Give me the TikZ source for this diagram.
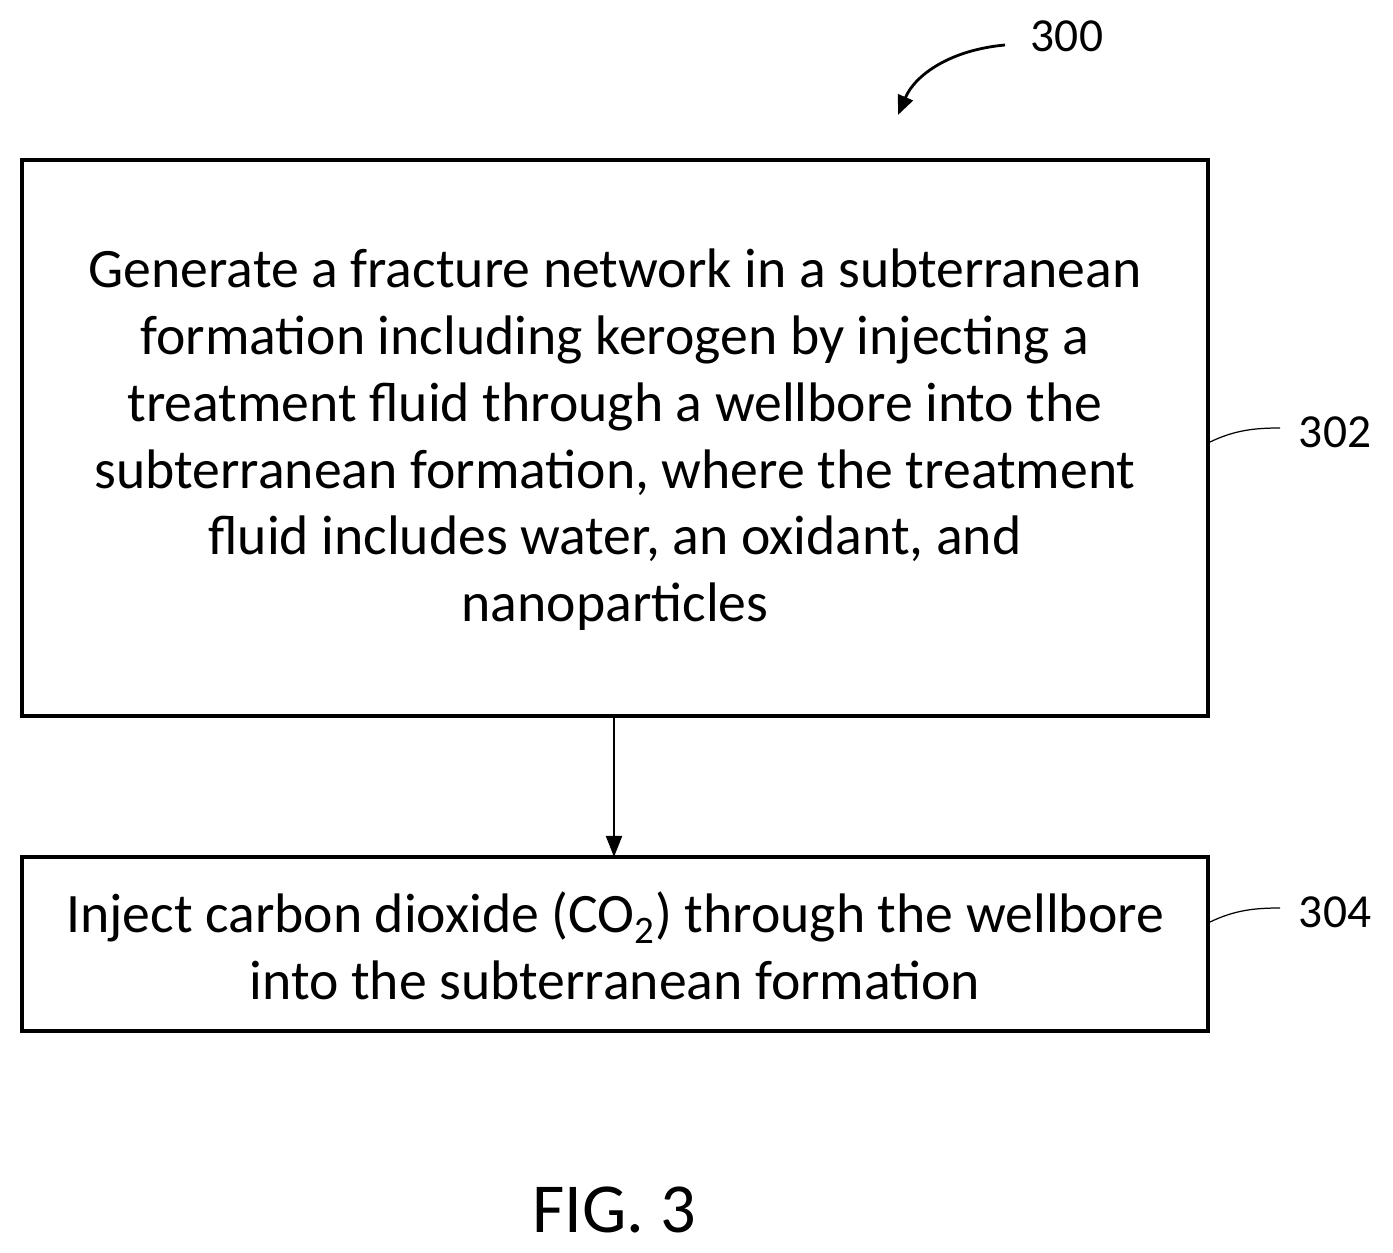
\documentclass[tikz,border=0pt]{standalone}
\usepackage{fontspec}
\setmainfont{Carlito}
\usetikzlibrary{arrows.meta}
\begin{document}
\begin{tikzpicture}[x=0.02cm,y=-0.02cm,
  box/.style={draw,line width=1.8pt,inner sep=0pt},
  txt/.style={align=center,font=\fontsize{31.7}{38}\selectfont},
  lbl/.style={font=\fontsize{27}{30}\selectfont},
  lead/.style={line width=0.7pt}]
\useasboundingbox (0,0) rectangle (1393,1253);
\draw[box] (22,160) rectangle (1208,716);
\draw[box] (22,857) rectangle (1208,1031);
\coordinate (b1) at (614,716);
\coordinate (b2) at (614,857);
\node[txt] (t1) at (615,440) {Generate a fracture network in a subterranean\\formation including kerogen by injecting a\\treatment fluid through a wellbore into the\\subterranean formation, where the treatment\\fluid includes water, an oxidant, and\\nanoparticles};
\node[txt] (t2) at (615,946) {Inject carbon dioxide (CO\textsubscript{2}) through the wellbore\\into the subterranean formation};
\draw[line width=1.6pt,-{Triangle[length=12pt,width=9pt]}] (b1) -- (b2);
\node[lbl] (l300) at (1067,36) {300};
\node[lbl] (l302) at (1335,432) {302};
\node[lbl] (l304) at (1335,912) {304};
\coordinate (c300) at (1005,45);
\coordinate (a300) at (898,115);
\draw[line width=1.6pt,-{Triangle[length=11pt,width=9pt]}] (c300) .. controls (950,50) and (915,75) .. (a300);
\coordinate (s302) at (1210,442);
\coordinate (e302) at (1280,428);
\draw[lead] (s302) .. controls (1235,430) and (1255,428) .. (e302);
\coordinate (s304) at (1210,922);
\coordinate (e304) at (1280,908);
\draw[lead] (s304) .. controls (1235,910) and (1255,908) .. (e304);
\node[font=\fontsize{40}{44}\selectfont] (fig) at (614,1210) {FIG. 3};
\end{tikzpicture}
\end{document}
